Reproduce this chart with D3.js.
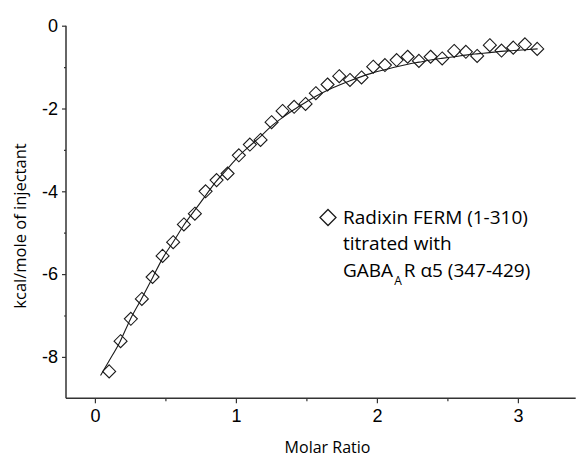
<!DOCTYPE html>
<html>
<head>
<meta charset="utf-8">
<script src="https://cdn.jsdelivr.net/npm/d3@7"></script>
<style>
  body { margin: 0; background: #fff; }
  svg { display: block; }
</style>
</head>
<body>
<div id="chart"></div>
<script>
// injection points: molar ratio and heat per injection
var ratio = [0.101, 0.182, 0.255, 0.333, 0.409, 0.480, 0.555, 0.631, 0.709, 0.785,
             0.863, 0.941, 1.021, 1.099, 1.175, 1.253, 1.331, 1.413, 1.494, 1.567,
             1.650, 1.733, 1.809, 1.891, 1.974, 2.057, 2.140, 2.218, 2.298, 2.381,
             2.463, 2.548, 2.631, 2.711, 2.801, 2.884, 2.967, 3.050, 3.137]
var heat = [-8.35, -7.62, -7.08, -6.60, -6.07, -5.56, -5.23, -4.80, -4.54, -4.00,
            -3.73, -3.57, -3.13, -2.87, -2.76, -2.33, -2.06, -1.96, -1.89, -1.63,
            -1.42, -1.22, -1.31, -1.25, -0.99, -0.95, -0.83, -0.75, -0.85, -0.75,
            -0.79, -0.61, -0.63, -0.73, -0.47, -0.60, -0.53, -0.45, -0.56]

// fitted curve
var fitRatio = [0.04, 0.10, 0.18, 0.25, 0.33, 0.41, 0.48, 0.56, 0.63, 0.71,
                0.79, 0.86, 0.94, 1.02, 1.10, 1.18, 1.25, 1.33, 1.41, 1.49,
                1.57, 1.65, 1.73, 1.81, 1.89, 1.97, 2.06, 2.14, 2.22, 2.30,
                2.38, 2.46, 2.55, 2.63, 2.71, 2.80, 2.88, 2.97, 3.05, 3.14]
var fitHeat = [-8.45, -8.10, -7.62, -7.10, -6.60, -6.08, -5.62, -5.20, -4.82, -4.45,
               -4.08, -3.76, -3.46, -3.15, -2.90, -2.66, -2.43, -2.22, -2.03, -1.86,
               -1.70, -1.56, -1.44, -1.33, -1.23, -1.14, -1.06, -0.99, -0.93, -0.88,
               -0.83, -0.79, -0.75, -0.71, -0.68, -0.65, -0.62, -0.60, -0.58, -0.56]

var xTicks = [0, 1, 2, 3],
    xMinor = [0.5, 1.5, 2.5],
    yTicks = [0, -2, -4, -6, -8],
    yMinor = [-1, -3, -5, -7]

var W = 576, H = 458,
    AXIS = "#333",
    MARK = "#1a1a1a",
    TICK_FONT = "'Liberation Sans', Arial, sans-serif",
    TEXT_FONT = "'Open Sans', 'Noto Sans', sans-serif"

var svg = d3.select("#chart").append("svg")
    .attr("width", W)
    .attr("height", H)

var x = d3.scaleLinear().domain([-0.205, 3.41]).range([66, 575.7]),
    y = d3.scaleLinear().domain([-9, 0]).range([398.3, 25.7])

// plain hyphen for negatives, as in the original
var fmt = function(d) { return String(d) }

function styleAxis(g) {
    g.select(".domain").remove()
    g.selectAll("line").attr("stroke", AXIS).attr("stroke-width", 1.2)
    g.selectAll("text")
        .style("font-family", TICK_FONT)
        .style("font-size", "18px")
        .attr("fill", "#000")
}

svg.append("g")
    .attr("transform", "translate(0," + y(-9) + ")")
    .call(d3.axisBottom(x).tickValues(xTicks).tickSize(5).tickPadding(6).tickFormat(fmt))
    .call(styleAxis)

svg.append("g")
    .attr("transform", "translate(0," + y(-9) + ")")
    .call(d3.axisBottom(x).tickValues(xMinor).tickSize(3).tickFormat(""))
    .call(styleAxis)

svg.append("g")
    .attr("transform", "translate(" + x.range()[0] + ",0)")
    .call(d3.axisLeft(y).tickValues(yTicks).tickSize(4).tickPadding(4).tickFormat(fmt))
    .call(styleAxis)

svg.append("g")
    .attr("transform", "translate(" + x.range()[0] + ",0)")
    .call(d3.axisLeft(y).tickValues(yMinor).tickSize(2).tickFormat(""))
    .call(styleAxis)

svg.append("line")
    .attr("x1", x.range()[0]).attr("x2", x.range()[0])
    .attr("y1", y(0)).attr("y2", y(-9))
    .attr("stroke", AXIS).attr("stroke-width", 1.5)
svg.append("line")
    .attr("x1", x.range()[0]).attr("x2", x.range()[1])
    .attr("y1", y(-9)).attr("y2", y(-9))
    .attr("stroke", AXIS).attr("stroke-width", 1.5)

// axis titles
svg.append("text")
    .attr("transform", "translate(26,226) rotate(-90)")
    .attr("text-anchor", "middle")
    .style("font-family", TEXT_FONT)
    .style("font-size", "16.5px")
    .text("kcal/mole of injectant")

svg.append("text")
    .attr("x", 327.5)
    .attr("y", 453)
    .attr("text-anchor", "middle")
    .style("font-family", TEXT_FONT)
    .style("font-size", "16px")
    .text("Molar Ratio")

// fit line
var line = d3.line()
    .x(function(d, i) { return x(fitRatio[i]) })
    .y(function(d) { return y(d) })
    .curve(d3.curveMonotoneX)

svg.append("path")
    .datum(fitHeat)
    .attr("d", line)
    .attr("fill", "none")
    .attr("stroke", MARK)
    .attr("stroke-width", 1.1)

// data diamonds
var diamond = function(r) {
    return "M0," + (-r) + "L" + r + ",0L0," + r + "L" + (-r) + ",0Z"
}

svg.selectAll("path.point")
    .data(heat)
    .join("path")
    .attr("class", "point")
    .attr("transform", function(d, i) { return "translate(" + x(ratio[i]) + "," + y(d) + ")" })
    .attr("d", diamond(6.5))
    .attr("fill", "none")
    .attr("stroke", MARK)
    .attr("stroke-width", 1.1)

// legend
var legend = svg.append("g")
    .style("font-family", TEXT_FONT)
    .style("font-size", "19px")

legend.append("path")
    .attr("transform", "translate(328,217.5)")
    .attr("d", diamond(8))
    .attr("fill", "none")
    .attr("stroke", MARK)
    .attr("stroke-width", 1.3)

legend.append("text").attr("x", 343).attr("y", 223.5).text("Radixin FERM (1-310)")
legend.append("text").attr("x", 343).attr("y", 250).text("titrated with")
var t3 = legend.append("text").attr("x", 343).attr("y", 276.5)
t3.append("tspan").text("GABA")
t3.append("tspan").attr("dy", 8).attr("dx", 1).style("font-size", "12px").text("A")
t3.append("tspan").attr("dy", -8).attr("dx", 2).text("R \u03b15 (347-429)")
</script>
</body>
</html>
